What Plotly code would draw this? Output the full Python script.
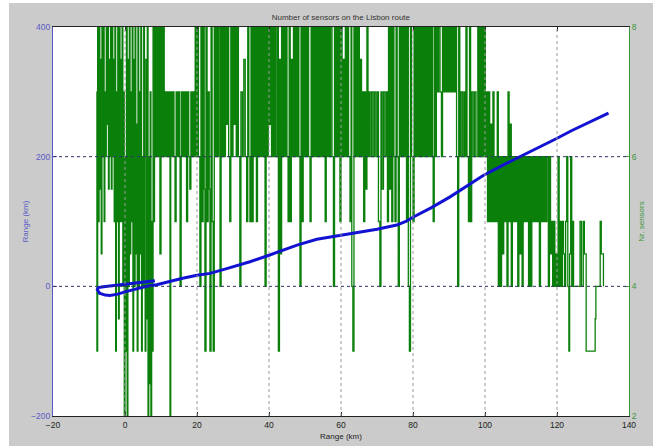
import plotly.graph_objects as go

# ---------------- data ----------------
x_ticks = [-20, 0, 20, 40, 60, 80, 100, 120, 140]
grid_x = [0, 20, 40, 60, 80, 100, 120]
range_ticks = [-200, 0, 200, 400]
grid_range = [0, 200]
sensor_ticks = [2, 4, 6, 8]

# blue route line (km along x, range km)
route_x = [8.3, 6, 3, 0, -3, -6, -7.4, -7.7, -7.1, -5.5, -4.2, -2, 0, 3, 6, 8.8, 12, 16, 20, 23.6,
           28, 34.7, 40, 44, 48, 53.3, 56, 62.5, 70, 75.5, 78, 80.1, 85, 90.3, 95, 99.5, 105,
           110.6, 115, 119.9, 124, 127.3, 131, 134.3]
route_y = [8.5, 7.2, 5.3, 3.2, 1.3, -0.5, -2, -5, -10.5, -13.5, -14, -12, -8.5, -4, 0, 2.5, 7, 12.5, 17, 20,
           27, 38, 48, 56, 64, 72.5, 75, 81, 88, 94.5, 100, 107, 121, 138, 155, 171, 187,
           202, 214, 228, 240, 249, 258, 267]

# number of sensors (stairs), region by region
km_a = [-7.9, -7.8, -7.6, -7.4, -7.2, -7.0, -6.8, -6.6, -6.4, -6.2, -6.0, -5.8, -5.6, -5.4, -5.2, -5.0,
        -4.8, -4.6, -4.4, -4.2, -4.0, -3.8, -3.6, -3.4, -3.2, -3.0, -2.8, -2.6, -2.4, -2.2, -2.0, -1.8,
        -1.6, -1.4, -1.2, -1.0, -0.8, -0.6, -0.4, -0.2, 0.0, 0.2, 0.4, 0.6, 0.8, 1.0, 1.2, 1.4, 1.6,
        1.8, 2.0, 2.2, 2.4, 2.6, 2.8, 3.0, 3.2, 3.4, 3.6, 3.8, 4.0, 4.2, 4.4, 4.6, 4.8, 5.0, 5.2, 5.4,
        5.6, 5.8, 6.0, 6.2, 6.4, 6.6, 6.8, 7.0, 7.2, 7.4, 7.6, 7.8, 8.0]
nr_a = [7, 3, 8, 5, 8, 5.5, 7.5, 4.5, 8, 6, 8, 5, 7, 6, 8, 6.5,
        8, 5.5, 7.5, 6, 8, 5.5, 8, 6, 7.5, 5, 8, 3, 7, 5, 8, 3.5,
        8, 5, 7.5, 5, 8, 4, 7, 2, 6, 3, 8, 2, 7.5, 4, 8, 4.5, 7,
        5, 8, 3, 7.5, 4, 8, 4.5, 6.5, 3, 8, 4, 7, 4.5, 8, 3, 6, 4, 8, 4,
        3, 7.5, 3.5, 8, 2, 6, 2.5, 7, 2, 5, 3, 8, 5]

km_b = [8.2, 8.5, 8.8, 9.1, 9.4, 9.7, 10.0, 10.3, 10.6, 10.9, 11.2, 11.5, 11.8, 12.1, 12.4, 12.5,
        12.7, 13.0, 13.3, 13.6, 13.9, 14.2, 14.5, 14.8, 15.1, 15.3, 15.6, 15.9, 16.2, 16.5, 16.8,
        17.1, 17.4, 17.7, 18.0, 18.3, 18.6, 18.9, 19.2, 19.5, 19.8, 20.1, 20.4, 20.8]
nr_b = [8, 6, 8, 6, 8, 4.5, 8, 6, 8, 6, 7, 6, 7, 6, 7, 2,
        7, 6, 7, 6, 5, 7, 6, 7, 6, 4, 7, 6, 7, 6, 7,
        5, 7, 6, 5.5, 7, 6, 7, 6, 8, 6, 8, 6, 4]

km_c = [21.1, 21.4, 21.7, 22.0, 22.2, 22.5, 22.8, 23.1, 23.4, 23.6, 23.9, 24.2, 24.5, 24.8, 25.1,
        25.4, 25.7, 26.0, 26.4, 26.7, 27.0, 27.3, 27.6, 27.9, 28.2, 28.5, 28.8, 29.1, 29.4, 29.7,
        30.0, 30.3, 30.6, 30.9, 31.2, 31.5, 31.9, 32.2, 32.6, 33.0, 33.4, 33.8, 34.1, 34.4, 34.7,
        35.0, 35.3, 35.6, 35.9, 36.2, 36.5, 36.8, 37.1, 37.4, 37.7, 38.0, 38.3, 38.6, 38.9, 39.2,
        39.5, 39.8, 40.1, 40.4, 40.7, 41.0, 41.3, 41.6, 41.9, 42.3, 42.6, 42.9, 43.2, 43.5, 43.8,
        44.1, 44.4, 44.7, 45.0, 45.3, 45.6, 45.9, 46.2, 46.5, 46.8, 47.1, 47.4, 47.7, 48.0, 48.3,
        48.6, 48.9, 49.2, 49.5, 49.8, 50.1, 50.4, 50.7, 51.0, 51.4, 51.7, 52.0, 52.3, 52.6, 52.9,
        53.2, 53.5, 53.8]
nr_c = [8, 5, 8, 5.5, 3, 8, 5, 7, 5.5, 3, 8, 5, 3, 8, 6,
        8, 6, 8, 4, 8, 6, 8, 6, 8, 6.5, 8, 6, 5, 8, 6,
        8, 6.5, 8, 6, 8, 6, 4, 7, 6, 7.5, 6, 5, 8, 6, 5,
        8, 5, 8, 6, 8, 5, 8, 6, 8, 6, 8, 6, 8, 4, 8,
        6, 8, 6.5, 8, 6, 8, 6, 8, 6, 8, 3, 7.5, 4.5, 8, 6,
        8, 6, 8, 6, 5, 8, 5, 7.5, 6, 8, 6, 8, 6, 8, 6,
        4, 8, 5, 8, 6, 8, 6, 8, 6, 5, 8, 6, 8, 6, 8,
        6, 8, 6]

km_d = [54.1, 54.4, 54.7, 55.0, 55.3, 55.6, 55.9, 56.2, 56.5, 56.8, 57.1, 57.5, 57.9, 58.2, 58.5,
        58.8, 59.1, 59.4, 59.7, 60.0, 60.3, 60.6, 60.9, 61.2, 61.5, 61.8, 62.1, 62.5, 62.8, 63.0,
        63.3, 63.6, 63.9, 64.2, 64.5, 64.8, 65.1, 65.4, 65.7, 66.0, 66.3, 66.6, 66.9, 67.2, 67.5,
        67.8, 68.1, 68.5, 68.9, 69.3, 69.7, 70.1, 70.4, 70.8, 71.1, 71.4, 71.8, 72.2, 72.6, 72.9,
        73.2, 73.5, 73.8, 74.1, 74.4, 74.7, 75.0, 75.3, 75.6, 75.9, 76.2, 76.5, 76.8, 77.1, 77.4,
        77.7, 78.0, 78.2, 78.5, 78.7, 79.0, 79.3, 79.6, 80.0, 80.3, 80.6, 80.9, 81.2, 81.5, 81.8,
        82.1, 82.4, 82.7, 83.0, 83.3, 83.6, 83.9, 84.2, 84.5]
nr_d = [8, 6, 8, 6, 8, 5, 8, 6, 8, 6, 8, 6, 4, 8, 6,
        8, 6, 8, 5, 8, 6, 7.5, 6, 8, 6, 8, 6, 5, 8, 4,
        3, 8, 6, 8, 6, 8, 6, 7.5, 6, 7, 5, 7, 5.5, 8, 6,
        7, 6, 7, 6, 7, 6, 7, 5, 4, 7, 5.5, 7, 6, 7, 5,
        8, 5.5, 8, 5, 8, 6, 5, 8, 6, 4, 8, 6, 8, 6, 8,
        6, 8, 5, 8, 4, 3, 8, 6, 5, 8, 6, 8, 6, 8, 6,
        8, 6, 8, 6, 8, 6, 8, 6, 8]

km_e = [84.8, 85.1, 85.4, 85.6, 85.9, 86.2, 86.5, 86.8, 87.1, 87.5, 87.9, 88.2, 88.5, 88.8, 89.1,
        89.4, 89.7, 90.0, 90.3, 90.6, 90.9, 91.2, 91.5, 91.8, 92.1, 92.4, 92.7, 93.0, 93.3, 93.7,
        94.1, 94.4, 94.7, 95.0, 95.4, 95.7, 96.0, 96.3, 96.7, 97.1, 97.5, 98.0, 98.3, 98.6, 98.9,
        99.2, 99.5, 99.8, 100.1, 100.4]
nr_e = [6, 8, 6, 5, 8, 6, 8, 7, 8, 7, 6, 8, 7, 8, 7,
        8, 7, 8, 7, 8, 7, 8, 7, 8, 6, 4, 8, 6, 7, 6,
        7, 6, 8, 6, 5, 8, 5, 7, 6, 7, 6, 8, 6, 8, 6,
        8, 6, 8, 6, 7]

km_f = [100.7, 101.0, 101.3, 101.6, 101.9, 102.2, 102.5, 102.8, 103.1, 103.4, 103.7, 104.0, 104.3,
        104.6, 104.9, 105.2, 105.5, 105.8, 106.1, 106.4, 106.7, 107.0, 107.3, 107.6, 107.9, 108.2,
        108.5, 108.8, 109.1, 109.4, 109.7, 110.0, 110.3, 110.6, 110.9, 111.2, 111.5, 111.8, 112.1,
        112.4, 112.7, 113.0, 113.3, 113.6, 113.9, 114.2, 114.5, 114.8]
nr_f = [5, 7, 5, 6.5, 5, 7, 5, 6, 5, 7, 4, 6, 4,
        6, 4.5, 6, 5, 6, 4, 7, 5, 6.5, 4, 6, 5, 6,
        5, 6, 4, 6, 4.5, 6, 4, 6, 5, 6, 5, 6, 4,
        6, 4, 6, 5, 6, 5, 6, 5, 6]

km_g = [115.1, 115.4, 115.7, 116.0, 116.3, 116.6, 116.9, 117.2, 117.6, 117.9, 118.2, 118.5, 118.8,
        119.1, 119.4, 119.7, 120.0, 120.3, 120.6, 120.9, 121.2, 121.5, 121.8, 122.1, 122.4, 122.7,
        123.0, 123.3, 123.5, 123.8, 124.1, 124.4, 124.6, 126.4, 126.8, 127.3, 127.6, 128.1, 130.6,
        130.8, 132.0, 132.3, 132.9]
nr_g = [4, 6, 5, 6, 5, 6, 5, 6, 4, 6, 4.5, 5, 4,
        5, 4, 4.5, 4, 6, 4, 5, 4, 5, 4.5, 4, 5, 6,
        4, 3, 4.5, 6, 4, 5, 4, 5, 4, 5, 4.5, 3, 3.5,
        4, 5, 4.5, 4]

sensor_km = km_a + km_b + km_c + km_d + km_e + km_f + km_g
sensor_nr = nr_a + nr_b + nr_c + nr_d + nr_e + nr_f + nr_g

# ---------------- styling ----------------
FONT = "Liberation Sans Narrow, Arial Narrow, Liberation Sans, Arial, sans-serif"
BLUE_AX = "#5a5ac8"
GREEN_AX = "#3c963c"
GREY_BG = "#cbcbcb"

fig = go.Figure()

fig.add_trace(go.Scatter(
    x=sensor_km, y=sensor_nr, mode="lines", line=dict(color="#0a800a", width=1.3, shape="hv"),
    yaxis="y", showlegend=False, hoverinfo="skip"))

fig.add_trace(go.Scatter(
    x=route_x, y=route_y, mode="lines", line=dict(color="#1212d2", width=3),
    yaxis="y2", showlegend=False, hoverinfo="skip"))

# dotted grids drawn above the data, like the original
for g in grid_x:
    fig.add_shape(type="line", xref="x", yref="paper", x0=g, x1=g, y0=0, y1=1,
                  line=dict(color="#9a9a9a", width=1, dash="dot"), layer="above")
for g in grid_range:
    fig.add_shape(type="line", xref="paper", yref="y2", x0=0, x1=1, y0=g, y1=g,
                  line=dict(color="#30306a", width=1, dash="dot"), layer="above")

# white page strips around the grey figure area
fig.add_shape(type="rect", xref="paper", yref="paper", x0=-0.1, x1=-0.0764, y0=-0.1, y1=1.1,
              fillcolor="white", line=dict(width=0), layer="below")
fig.add_shape(type="rect", xref="paper", yref="paper", x0=-0.1, x1=1.1, y0=1.0617, y1=1.1,
              fillcolor="white", line=dict(width=0), layer="below")

fig.update_layout(
    width=653, height=446,
    margin=dict(l=53, r=24, t=27, b=30, autoexpand=False),
    paper_bgcolor=GREY_BG, plot_bgcolor="white",
    font=dict(family=FONT, size=8, color="#222222"),
    title=dict(text="Number of sensors on the Lisbon route", x=0.522, xanchor="center",
               y=0.962, yanchor="middle", font=dict(size=8, color="#333333")),
    xaxis=dict(range=[-20, 140], tickmode="array", tickvals=x_ticks, ticks="inside", ticklen=4,
               tickcolor="#222222", showgrid=False, zeroline=False, showline=True,
               linecolor="#222222", linewidth=1, mirror="ticks", ticklabelstandoff=1,
               automargin=False,
               title=dict(text="Range (km)", standoff=4, font=dict(size=8)),
               tickfont=dict(size=8.5, color="#222222")),
    yaxis=dict(range=[2, 8], side="right", tickmode="array", tickvals=sensor_ticks,
               ticks="inside", ticklen=4, tickcolor=GREEN_AX, showgrid=False, zeroline=False,
               showline=True, linecolor=GREEN_AX, linewidth=1, automargin=False,
               title=dict(text="Nr. sensors", standoff=2, font=dict(size=8, color=GREEN_AX)),
               tickfont=dict(size=8.5, color=GREEN_AX)),
    yaxis2=dict(range=[-200, 400], overlaying="y", side="left", tickmode="array",
                tickvals=range_ticks, ticks="inside", ticklen=4, tickcolor=BLUE_AX,
                showgrid=False, zeroline=False, showline=True, linecolor=BLUE_AX, linewidth=1,
                automargin=False,
                title=dict(text="Range (km)", standoff=1, font=dict(size=8, color=BLUE_AX)),
                tickfont=dict(size=8.5, color=BLUE_AX)),
)

fig.write_html("out.html")
